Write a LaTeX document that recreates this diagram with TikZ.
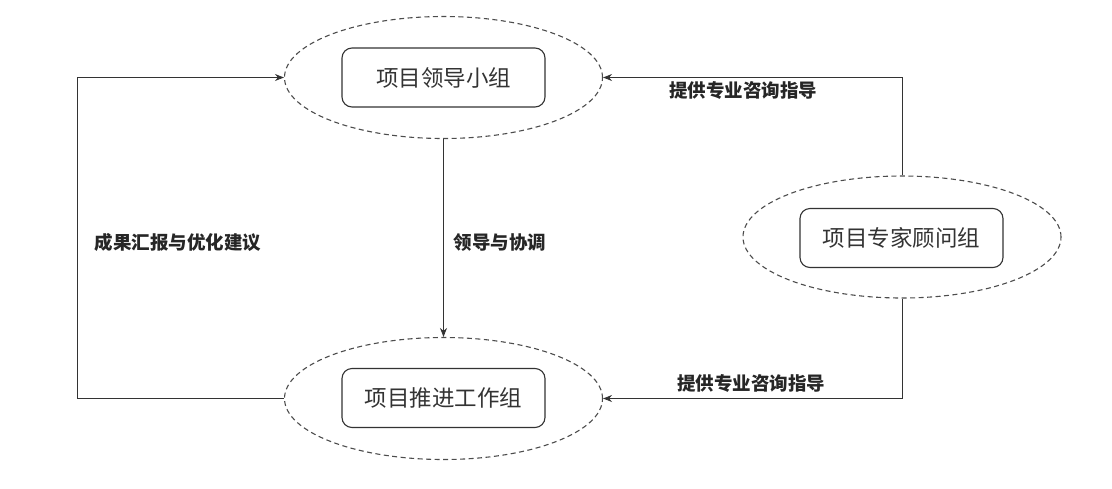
\documentclass[tikz,border=0pt]{standalone}
\usepackage{fontspec}
\newfontfamily\cjk{Noto Sans CJK SC}
\usetikzlibrary{shapes.geometric,arrows.meta}
\tikzset{
  grp/.style={ellipse,draw=black!70,dash pattern=on 5pt off 3.5pt,line width=1.1pt,minimum width=318pt,minimum height=122pt,inner sep=0pt},
  box/.style={draw=black!80,line width=1.1pt,rounded corners=10pt,minimum width=203pt,minimum height=59pt,inner sep=0pt,font=\cjk\fontsize{22.5pt}{25pt}\selectfont,text=black!80},
  lbl/.style={font=\cjk\bfseries\fontsize{18.5pt}{21pt}\selectfont,text=black!85,inner sep=0pt},
  conn/.style={draw=black!80,line width=1pt,-{Stealth[length=9pt,width=7pt]}},
  plain/.style={draw=black!80,line width=1pt}
}
\begin{document}
\begin{tikzpicture}[x=1pt,y=-1pt]
\useasboundingbox (0,0) rectangle (1112,488);
\node[grp] (lead) at (443.5,77.5) {};
\node[box] (leadbox) at (443.5,77.5) {项目领导小组};
\node[grp] (work) at (443.5,398.5) {};
\node[box] (workbox) at (443.5,398) {项目推进工作组};
\node[grp] (exp) at (902,237) {};
\node[box] (expbox) at (901.5,238) {项目专家顾问组};
\coordinate (lc1) at (77,398.5);
\coordinate (lc2) at (77,77.5);
\coordinate (rc1) at (902,77.5);
\coordinate (rc2) at (902,398.5);
\draw[conn] (lead.south) -- (work.north);
\draw[conn] (work.west) -- (lc1) -- (lc2) -- (lead.west);
\draw[conn] (exp.north) -- (rc1) -- (lead.east);
\draw[conn] (exp.south) -- (rc2) -- (work.east);
\node[lbl] (l1) at (178,242) {成果汇报与优化建议};
\node[lbl] (l2) at (500,243) {领导与协调};
\node[lbl] (l3) at (743,90) {提供专业咨询指导};
\node[lbl] (l4) at (751,383) {提供专业咨询指导};
\end{tikzpicture}
\end{document}
